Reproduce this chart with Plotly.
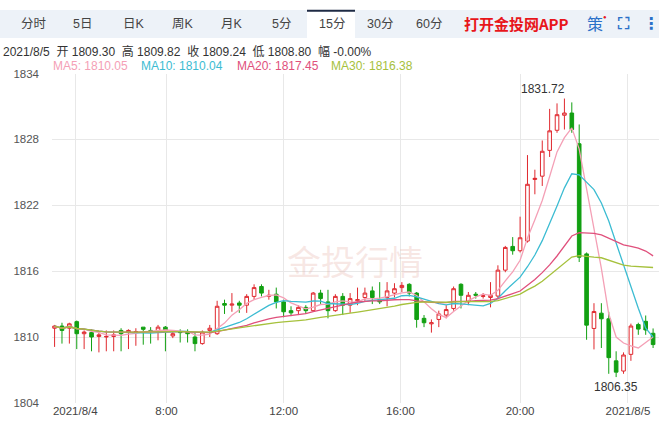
import plotly.graph_objects as go
import pandas as pd

# 15-minute bars, 2021/8/4 - 2021/8/5
opens = [1810.8, 1811.0, 1810.8, 1811.4, 1810.3, 1810.4, 1810.05, 1810.0, 1810.05, 1810.6,
         1810.45, 1810.45, 1810.9, 1810.6, 1810.6, 1810.9, 1810.1, 1810.5, 1810.45, 1810.0,
         1809.4, 1810.6, 1810.3, 1813.05, 1812.9, 1813.1, 1812.9, 1813.7, 1814.6, 1813.7,
         1813.9, 1813.2, 1812.4, 1812.4, 1812.7, 1812.4, 1814.0, 1813.2, 1812.4, 1813.7,
         1812.9, 1813.3, 1813.6, 1814.2, 1813.4, 1813.6, 1814.0, 1814.5, 1814.8, 1814.0,
         1811.7, 1811.2, 1811.6, 1812.0, 1812.6, 1814.8, 1813.2, 1813.9, 1813.7, 1813.6,
         1813.73, 1816.09, 1818.25, 1817.86, 1818.74, 1824.35, 1824.65, 1827.0, 1828.83, 1830.2,
         1830.4, 1827.6, 1817.57, 1810.78, 1812.17, 1811.66, 1807.83, 1806.9, 1808.42, 1811.13,
         1811.43, 1810.34]
highs = [1811.1, 1811.3, 1811.3, 1811.5, 1810.6, 1810.7, 1810.4, 1810.6, 1810.6, 1810.8,
         1810.7, 1810.8, 1810.9, 1810.9, 1811.1, 1811.0, 1810.6, 1810.7, 1810.7, 1810.4,
         1810.6, 1811.1, 1813.3, 1813.4, 1814.0, 1813.3, 1813.9, 1814.8, 1814.8, 1814.3,
         1814.5, 1813.4, 1812.8, 1812.9, 1812.9, 1814.1, 1814.3, 1814.3, 1813.9, 1814.0,
         1814.0, 1814.5, 1814.5, 1814.6, 1815.0, 1815.0, 1814.9, 1815.0, 1814.9, 1814.1,
         1812.0, 1811.6, 1812.4, 1812.9, 1814.6, 1814.9, 1814.1, 1814.1, 1814.0, 1815.0,
         1816.53, 1818.3, 1819.1, 1820.96, 1826.57, 1825.24, 1827.9, 1830.78, 1831.28, 1831.72,
         1831.37, 1829.36, 1817.7, 1813.08, 1813.08, 1812.3, 1808.7, 1808.6, 1811.22, 1811.3,
         1811.96, 1810.78]
lows = [1809.1, 1809.4, 1809.4, 1808.9, 1808.9, 1808.7, 1808.6, 1808.7, 1808.7, 1808.7,
        1808.9, 1809.2, 1809.3, 1809.4, 1809.7, 1808.7, 1809.9, 1809.5, 1809.5, 1808.7,
        1809.3, 1810.0, 1810.2, 1812.1, 1812.3, 1812.2, 1812.2, 1813.4, 1813.7, 1813.4,
        1812.6, 1811.8, 1811.9, 1812.0, 1812.1, 1812.3, 1813.0, 1811.7, 1812.3, 1812.0,
        1812.2, 1812.9, 1813.3, 1813.0, 1813.0, 1812.8, 1813.6, 1814.1, 1813.7, 1810.85,
        1810.9, 1810.4, 1810.9, 1811.7, 1812.4, 1812.6, 1812.9, 1813.5, 1813.5, 1812.7,
        1813.43, 1815.9, 1817.5, 1817.7, 1818.6, 1823.0, 1823.76, 1826.4, 1828.6, 1828.9,
        1828.6, 1816.83, 1809.75, 1808.87, 1809.0, 1806.65, 1806.35, 1806.65, 1807.83, 1810.2,
        1810.2, 1809.0]
closes = [1811.0, 1810.6, 1811.2, 1810.3, 1810.45, 1810.0, 1810.2, 1810.05, 1810.2, 1810.3,
          1810.6, 1810.5, 1810.7, 1810.5, 1810.9, 1810.6, 1810.3, 1810.4, 1810.3, 1809.4,
          1810.45, 1810.8, 1812.8, 1812.9, 1813.0, 1812.9, 1813.7, 1814.5, 1814.0, 1813.8,
          1813.2, 1812.3, 1812.2, 1812.7, 1812.4, 1814.0, 1813.5, 1812.4, 1813.7, 1812.9,
          1813.5, 1813.4, 1814.0, 1813.6, 1813.2, 1814.2, 1814.4, 1814.7, 1814.0, 1811.6,
          1811.3, 1811.3, 1812.1, 1812.5, 1814.4, 1813.8, 1813.8, 1813.8, 1813.75, 1813.8,
          1816.09, 1818.16, 1817.86, 1819.04, 1823.91, 1824.45, 1826.92, 1828.78, 1830.25, 1830.4,
          1828.9, 1817.27, 1811.08, 1812.32, 1811.66, 1808.12, 1806.8, 1808.36, 1811.0, 1810.72,
          1810.64, 1809.31]

tick_pos = [2.8, 15.15, 31, 46.8, 63, 77.6]
tick_text = ["2021/8/4", "8:00", "12:00", "16:00", "20:00", "2021/8/5"]

ma_cfg = [("MA5", 5, "#f4a0b6"), ("MA10", 10, "#3cbcd2"),
          ("MA20", 20, "#e0507c"), ("MA30", 30, "#a6c13c")]

W, H = 659, 422


def px(x):
    return x / W


def py(y):
    return 1 - y / H


idx = list(range(len(closes)))
close_s = pd.Series(closes)

fig = go.Figure()
fig.add_trace(go.Candlestick(
    x=idx, open=opens, high=highs, low=lows, close=closes,
    increasing=dict(line=dict(color="#e0282e", width=1), fillcolor="white"),
    decreasing=dict(line=dict(color="#12a012", width=1), fillcolor="#12a012"),
    whiskerwidth=0, showlegend=False, hoverinfo="skip"))

for name, n, color in ma_cfg:
    fig.add_trace(go.Scatter(x=idx, y=close_s.rolling(n, min_periods=1).mean(),
                             mode="lines", line=dict(color=color, width=1.3),
                             showlegend=False, hoverinfo="skip"))

font = "Liberation Sans, Noto Sans CJK SC"
ann = []


def label(x, y, text, size, color, fam=font, anchor="center"):
    ann.append(dict(x=px(x), y=py(y), xref="paper", yref="paper", xanchor=anchor,
                    yanchor="middle", text=text, showarrow=False,
                    font=dict(size=size, color=color, family=fam)))


# watermark
label(355, 262, "金投行情", 34, "rgba(225,160,150,0.25)", "Noto Sans CJK SC")
# tabs
tabs = [("分时", 34), ("5日", 82), ("日K", 134), ("周K", 183), ("月K", 232),
        ("5分", 281), ("15分", 332), ("30分", 380), ("60分", 429)]
for t, x in tabs:
    label(x, 19, t, 12.5, "#444")
label(516, 18, "<b>打开金投网APP</b>", 15, "#e8161b", "Noto Sans CJK SC")
label(595, 18, "策", 16, "#2a70c8", "Noto Sans CJK SC")
label(605, 11, "●", 6, "#e8161b")
label(623, 18, "<b>⛶</b>", 16, "#2a70c8", "DejaVu Sans")
label(651, 18, "<b>⋮</b>", 16, "#2a70c8", "DejaVu Sans")
# header
label(1, 47, "2021/8/5  开 1809.30  高 1809.82  收 1809.24  低 1808.80  幅 -0.00%", 12, "#333",
      anchor="left")
ma_last = ["1810.05", "1810.04", "1817.45", "1816.38"]
ma_x = [51, 139, 235, 329]
for (name, n, color), v, x in zip(ma_cfg, ma_last, ma_x):
    label(x, 62, f"{name}: {v}", 12, color, anchor="left")
# extremes
hi_i = highs.index(max(highs))
lo_i = lows.index(min(lows))
ann.append(dict(x=hi_i, y=max(highs), yanchor="bottom", xanchor="right", xshift=3, yshift=1,
                text=f"{max(highs):.2f}", showarrow=False,
                font=dict(size=12, color="#333", family=font)))
ann.append(dict(x=lo_i, y=min(lows), yanchor="top", yshift=-1,
                text=f"{min(lows):.2f}", showarrow=False,
                font=dict(size=12, color="#333", family=font)))

shapes = [
    dict(type="rect", xref="paper", yref="paper", x0=0, x1=1, y0=py(33), y1=py(4),
         fillcolor="#edf2f8", line=dict(width=0), layer="below"),
    dict(type="rect", xref="paper", yref="paper", x0=px(307), x1=px(355),
         y0=py(34), y1=py(5), fillcolor="white", line=dict(width=0), layer="below"),
    dict(type="line", xref="paper", yref="paper", x0=px(307), x1=px(355),
         y0=py(5), y1=py(5), line=dict(color="#1e2a44", width=2)),
]

fig.update_layout(
    width=W, height=H, margin=dict(l=0, r=0, t=0, b=0),
    paper_bgcolor="white", plot_bgcolor="white",
    font=dict(family=font, size=12, color="#555"),
    annotations=ann, shapes=shapes,
    xaxis=dict(domain=[px(52), 1], range=[-0.35, 81.8], tickvals=tick_pos, ticktext=tick_text,
               showgrid=True, gridcolor="#e8e8e8", zeroline=False, showline=False,
               rangeslider=dict(visible=False), ticks="", ticklabelstandoff=0,
               tickfont=dict(color="#444", size=11.5)),
    yaxis=dict(domain=[py(408.5), py(69.5)], range=[1804, 1834],
               tickvals=[1804, 1810, 1816, 1822, 1828, 1834],
               showgrid=True, gridcolor="#e8e8e8", zeroline=False, ticks="",
               ticklabelstandoff=12, tickfont=dict(color="#555", size=11.5)),
)
fig.write_html("out.html", config={"displayModeBar": False},
               post_script="document.body.style.margin='0';")
